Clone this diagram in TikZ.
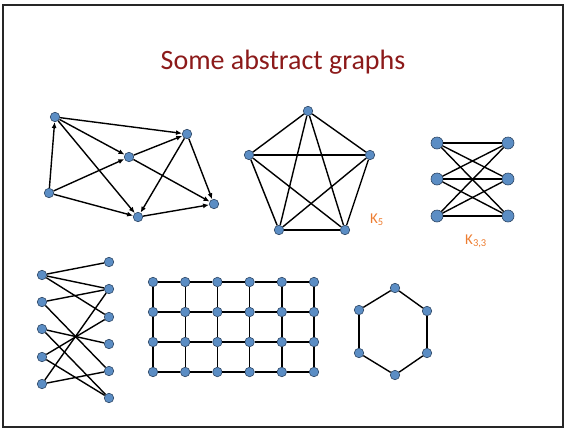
\documentclass[tikz,border=0pt]{standalone}
\usepackage{fontspec}
\setmainfont{Carlito}
\usetikzlibrary{arrows.meta}
\definecolor{titlered}{RGB}{140,26,26}
\definecolor{vblue}{RGB}{91,141,196}
\definecolor{vline}{RGB}{45,70,100}
\definecolor{labelorange}{RGB}{237,125,49}

\begin{document}
\begin{tikzpicture}[x=1pt,y=-1pt,
  vert/.style={circle,fill=vblue,draw=vline,line width=0.6pt,inner sep=0pt,minimum size=9.5pt},
  bigvert/.style={vert,minimum size=12pt},
  edge/.style={line width=1.4pt},
  arc/.style={edge,-{Latex[length=6pt,width=5pt]}},
  glabel/.style={text=labelorange,font=\fontsize{15}{17}\selectfont}]
  \useasboundingbox (0,0) rectangle (565,429);
  \draw[line width=2pt,black!85] (3,5) rectangle (563,427);
  \node[text=titlered,font=\fontsize{28}{34}\selectfont] (title) at (283,62) {Some abstract graphs};

  % directed graph
  \node[vert] (a) at (55,117) {};
  \node[vert] (b) at (187,134) {};
  \node[vert] (c) at (129,157) {};
  \node[vert] (d) at (49,193) {};
  \node[vert] (e) at (138,217) {};
  \node[vert] (f) at (214,204) {};
  \foreach \u/\v in {a/b,a/c,a/e,d/a,d/c,d/e,c/b,c/f,b/e,b/f,e/f}
    \draw[arc] (\u) -- (\v);

  % K5
  \node[vert] (k1) at (308,111) {};
  \node[vert] (k2) at (370,155) {};
  \node[vert] (k3) at (345,230) {};
  \node[vert] (k4) at (279,230) {};
  \node[vert] (k5) at (249,155) {};
  \foreach \u/\v in {1/2,1/3,1/4,1/5,2/3,2/4,2/5,3/4,3/5,4/5}
    \draw[edge] (k\u) -- (k\v);
  \node[glabel] (k5lab) at (377,220) {K\textsubscript{5}};

  % K3,3
  \foreach \i/\y in {1/143,2/179,3/216} {
    \node[bigvert] (p\i) at (437,\y) {};
    \node[bigvert] (q\i) at (508,\y) {};
  }
  \foreach \i in {1,2,3}
    \foreach \j in {1,2,3}
      \draw[edge] (p\i) -- (q\j);
  \node[glabel] (k33lab) at (476,241) {K\textsubscript{3,3}};

  % bipartite graph
  \foreach \i/\y in {1/275,2/302,3/329,4/357,5/384}
    \node[vert] (l\i) at (42,\y) {};
  \foreach \i/\y in {1/262,2/289,3/317,4/344,5/371,6/398}
    \node[vert] (r\i) at (109,\y) {};
  \foreach \u/\v in {1/1,1/2,1/3,2/2,2/5,3/4,3/6,4/3,4/6,5/2,5/5}
    \draw[edge] (l\u) -- (r\v);

  % grid
  \foreach \i in {0,...,5}
    \foreach \j in {0,...,3}
      \node[vert] (g-\i-\j) at (153+32.2*\i,282+30*\j) {};
  \foreach \i in {0,...,5}
    \foreach \j/\jj in {0/1,1/2,2/3}
      \draw[edge] (g-\i-\j) -- (g-\i-\jj);
  \foreach \j in {0,...,3}
    \foreach \i/\ii in {0/1,1/2,2/3,3/4,4/5}
      \draw[edge] (g-\i-\j) -- (g-\ii-\j);

  % hexagon
  \node[vert] (h1) at (395,288) {};
  \node[vert] (h2) at (427,311) {};
  \node[vert] (h3) at (427,353) {};
  \node[vert] (h4) at (395,375) {};
  \node[vert] (h5) at (359,353) {};
  \node[vert] (h6) at (359,310) {};
  \foreach \u/\v in {1/2,2/3,3/4,4/5,5/6,6/1}
    \draw[edge] (h\u) -- (h\v);
\end{tikzpicture}
\end{document}
